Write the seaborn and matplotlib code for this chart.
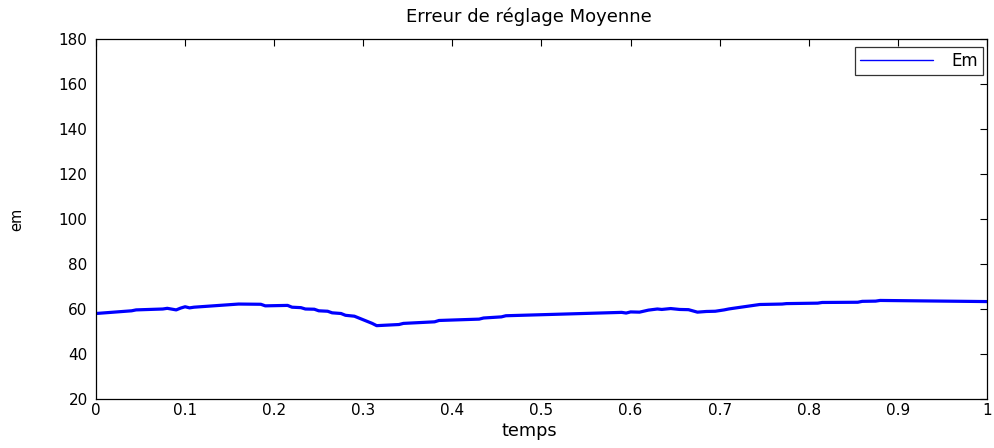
import matplotlib
matplotlib.use("Agg")
import matplotlib.pyplot as plt
import seaborn as sns
import pandas as pd

temps = [0.0, 0.04, 0.045, 0.075, 0.08, 0.09, 0.095, 0.10, 0.105, 0.11, 0.16, 0.185, 0.19, 0.215, 0.22, 0.23,
         0.235, 0.245, 0.25, 0.26, 0.265, 0.275, 0.28, 0.29, 0.295, 0.30, 0.31, 0.315, 0.34, 0.345, 0.38,
         0.385, 0.43, 0.435, 0.455, 0.46, 0.59, 0.595, 0.60, 0.61, 0.62, 0.63, 0.635, 0.645, 0.655, 0.665,
         0.675, 0.685, 0.695, 0.705, 0.71, 0.715, 0.745, 0.77, 0.775, 0.81, 0.815, 0.855, 0.86, 0.875, 0.88, 1.0]
em = [58.0, 59.2, 59.6, 60.0, 60.3, 59.6, 60.4, 61.0, 60.5, 60.8, 62.2, 62.1, 61.4, 61.6, 60.8, 60.6,
      60.0, 59.9, 59.2, 59.0, 58.3, 58.0, 57.2, 56.8, 56.0, 55.2, 53.6, 52.6, 53.1, 53.6, 54.3,
      54.9, 55.5, 56.0, 56.5, 57.0, 58.5, 58.2, 58.7, 58.6, 59.5, 60.0, 59.8, 60.2, 59.8, 59.7,
      58.6, 58.9, 59.0, 59.6, 60.0, 60.3, 62.0, 62.2, 62.4, 62.6, 62.9, 63.0, 63.4, 63.5, 63.8, 63.3]
xtick_labels = ["0", "0.1", "0.2", "0.3", "0.4", "0.5", "0.6", "0.7", "0.8", "0.9", "1"]

df = pd.DataFrame({"temps": temps, "em": em})

sns.set_style("white")
plt.rcParams["font.family"] = ["DejaVu Sans"]
plt.rcParams["text.color"] = "black"
plt.rcParams["axes.labelcolor"] = "black"

fig = plt.figure(figsize=(9.95, 4.48), dpi=100)
ax = fig.add_axes([96/995, 49/448, 891/995, 360/448])

sns.lineplot(data=df, x="temps", y="em", ax=ax, color="#0000ff", linewidth=2.3, label="Em")

ax.set_xlim(0, 1)
ax.set_ylim(20, 180)
ax.set_xticks([i/10 for i in range(11)])
ax.set_xticklabels(xtick_labels)
ax.set_yticks(range(20, 181, 20))
ax.tick_params(direction="in", top=True, right=True, length=5, width=0.8, labelsize=11,
               colors="black", labelcolor="black")
ax.tick_params(axis="x", pad=3)
ax.tick_params(axis="y", pad=6)
for s in ax.spines.values():
    s.set_color("black")
    s.set_linewidth(0.9)

ax.set_title("Erreur de réglage Moyenne", fontsize=13, pad=12, x=0.486, color="black")
ax.set_xlabel("temps", fontsize=12.8)
ax.xaxis.set_label_coords(0.486, -0.065)
ax.xaxis.label.set_va("top")
ax.set_ylabel("em", fontsize=10.5)
ax.yaxis.set_label_coords(-0.0887, 0.5)
ax.yaxis.label.set_va("center")

leg = ax.legend(loc="upper right", bbox_to_anchor=(0.9955, 0.978), fontsize=12, frameon=True,
                fancybox=False, edgecolor="black", handlelength=4.4, handletextpad=1.1,
                borderaxespad=0.0, borderpad=0.3)
leg.get_frame().set_linewidth(0.9)
for line in leg.get_lines():
    line.set_linewidth(1.0)

fig.savefig("out.png", dpi=100)
